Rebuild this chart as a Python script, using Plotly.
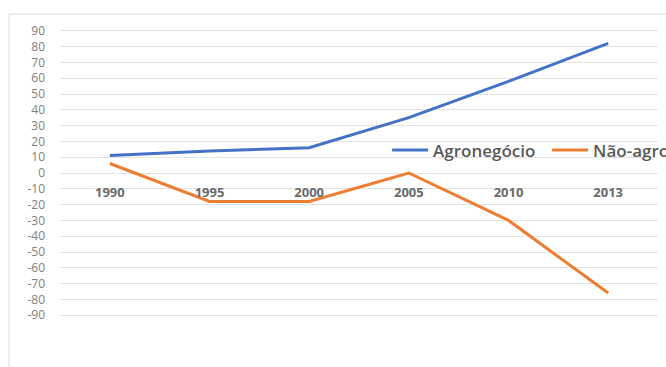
import plotly.graph_objects as go

years = ["1990", "1995", "2000", "2005", "2010", "2013"]
agro = [11, 14, 16, 35, 58, 82]
nao_agro = [6, -18, -18, 0, -30, -76]
y_ticks = list(range(-90, 91, 10))

FONT = "Open Sans"
fig = go.Figure()
fig.add_trace(go.Scatter(x=years, y=agro, mode="lines", name="Agronegócio",
                         line=dict(color="#4472C4", width=3)))
fig.add_trace(go.Scatter(x=years, y=nao_agro, mode="lines", name="Não-agronegócio",
                         line=dict(color="#ED7D31", width=3)))

fig.update_layout(
    width=666, height=367,
    margin=dict(l=60, r=8, t=15, b=36, autoexpand=False),
    paper_bgcolor="white", plot_bgcolor="white",
    font=dict(family=FONT, color="#595959"),
    showlegend=True,
    legend=dict(orientation="h", x=0.547, y=0.571, xanchor="left", yanchor="middle",
                font=dict(size=17, color="#595959", weight=600), bgcolor="rgba(0,0,0,0)",
                itemwidth=36, entrywidth=109, entrywidthmode="pixels"),
    xaxis=dict(type="category", range=[-0.5, 5.5], showgrid=False, zeroline=False,
               showline=False, anchor="free", position=0.5,
               ticks="outside", ticklen=7, tickcolor="rgba(0,0,0,0)",
               tickfont=dict(size=13, color="#6a6a6a", family=FONT, weight="bold")),
    yaxis=dict(range=[-100, 100], tickvals=y_ticks, ticktext=[str(v) for v in y_ticks],
               showgrid=True, gridcolor="#e3e3e3", gridwidth=1, zeroline=False,
               showline=False, ticks="", ticklabelstandoff=14,
               tickfont=dict(size=12, color="#808080")),
    shapes=[dict(type="rect", xref="paper", yref="paper",
                 x0=(9 - 60) / 598, x1=1.2, y0=-0.2, y1=(331.3 - 14.5) / 316,
                 line=dict(color="#dcdcdc", width=1), fillcolor="rgba(0,0,0,0)",
                 layer="below")],
)
fig.write_html("out.html")
